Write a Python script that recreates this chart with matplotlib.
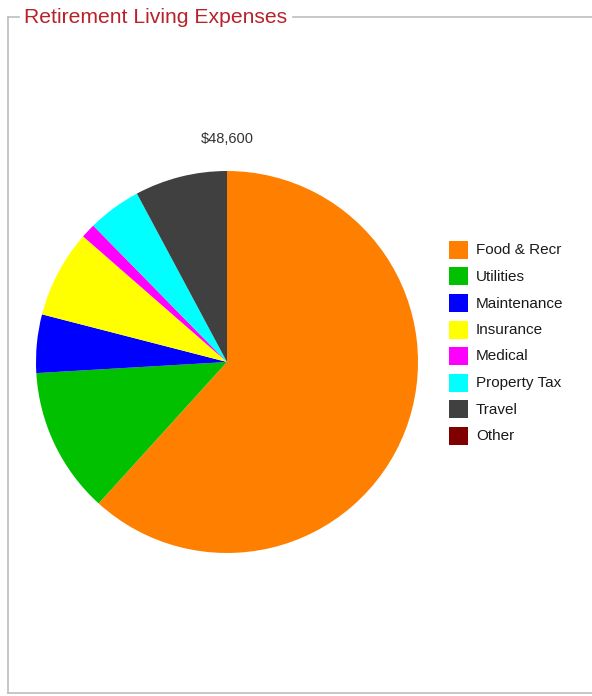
import matplotlib
matplotlib.use("Agg")
import matplotlib.pyplot as plt
from matplotlib.lines import Line2D
from matplotlib.patches import Rectangle

W, H = 592, 696

categories = ["Food & Recr", "Utilities", "Maintenance", "Insurance",
              "Medical", "Property Tax", "Travel", "Other"]
values = [30000, 6000, 2400, 3600, 600, 2200, 3800, 0]
colors = ["#ff8000", "#00c000", "#0000ff", "#ffff00",
          "#ff00ff", "#00ffff", "#404040", "#800000"]

plt.rcParams['font.family'] = ['Liberation Sans', 'DejaVu Sans']

fig = plt.figure(figsize=(W / 100, H / 100), dpi=100)
fig.patch.set_facecolor("white")

def fx(x):
    return x / W

def fy(y):
    return 1 - y / H

# pie axes, placed in pixels
cx, cy, r = 227, 362, 191
ax = fig.add_axes([(cx - r) / W, (H - cy - r) / H, 2 * r / W, 2 * r / H])
wedges, _ = ax.pie(values, colors=colors, startangle=90, counterclock=False,
                   radius=1, wedgeprops=dict(linewidth=0))
ax.set_xlim(-1, 1)
ax.set_ylim(-1, 1)
ax.set_aspect("equal")
ax.axis("off")

total = sum(values)
fig.text(fx(cx), fy(139), "\\${:,}".format(total), ha="center", va="center",
         fontsize=10.5, color="#333333")

# legend, one row per category
lx, ly, pitch = 449, 241, 26.5
for i, (name, col) in enumerate(zip(categories, colors)):
    top = ly + i * pitch
    fig.add_artist(Rectangle((fx(lx), fy(top + 18)), 19 / W, 18 / H,
                             transform=fig.transFigure, facecolor=col,
                             edgecolor="none"))
    fig.text(fx(476), fy(top + 9.5), name, ha="left", va="center",
             fontsize=11, color="#1a1a1a")

# fieldset-style frame
fc = "#bdbdbd"
for xs, ys in [((7.5, 7.5), (16.5, 693)), ((7.5, 592), (693, 693)),
               ((7.5, 19), (16.5, 16.5)), ((293, 592), (16.5, 16.5))]:
    fig.add_artist(Line2D([fx(x) for x in xs], [fy(y) for y in ys],
                          color=fc, linewidth=1.2))

fig.text(fx(24), fy(17.5), "Retirement Living Expenses", ha="left",
         va="center", fontsize=15.2, color="#b8222a")

fig.savefig("out.png", dpi=100, facecolor="white")
